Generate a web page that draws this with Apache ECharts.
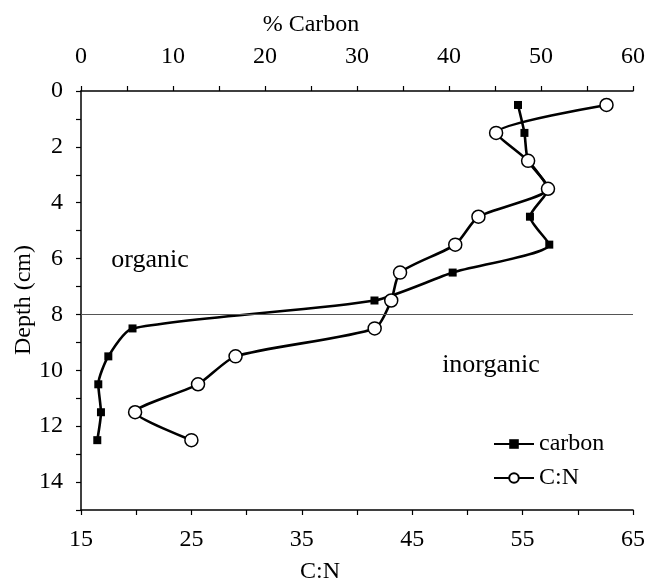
<!DOCTYPE html>
<html>
<head>
<meta charset="utf-8">
<script src="https://cdn.jsdelivr.net/npm/echarts@6/dist/echarts.min.js"></script>
<style>
html,body{margin:0;padding:0;background:#fff;}
#chart{width:651px;height:586px;}
</style>
</head>
<body>
<div id="chart"></div>
<script>
const depth = [0.5, 1.5, 2.5, 3.5, 4.5, 5.5, 6.5, 7.5, 8.5, 9.5, 10.5, 11.5, 12.5];
const carbon = [47.5, 48.2, 48.6, 50.8, 48.8, 50.9, 40.4, 31.9, 5.6, 2.97, 1.88, 2.17, 1.77];
const cn = [62.6, 52.6, 55.5, 57.3, 51.0, 48.9, 43.9, 43.1, 41.6, 29.0, 25.6, 19.9, 25.0];
const boundaryDepth = 8;
const seriesNames = ['carbon', 'C:N'];

const FONT = 'Liberation Serif';
const chart = echarts.init(document.getElementById('chart'));
const axisLineStyle = {color: '#000', width: 1.5};

chart.setOption({
  backgroundColor: '#fff',
  animation: false,
  grid: {left: 81, right: 18, top: 91, bottom: 76},
  xAxis: [
    {
      type: 'value', position: 'top', min: 0, max: 60, interval: 5,
      axisLine: {show: true, lineStyle: axisLineStyle},
      axisTick: {show: true, length: 5, lineStyle: {color: '#000', width: 1.2}},
      axisLabel: {
        margin: 22, fontFamily: FONT, fontSize: 24, color: '#000',
        formatter: v => (v % 10 === 0 ? String(v) : '')
      },
      splitLine: {show: false}
    },
    {
      type: 'value', position: 'bottom', min: 15, max: 65, interval: 5,
      axisLine: {show: true, onZero: false, lineStyle: axisLineStyle},
      axisTick: {show: true, length: 5, lineStyle: {color: '#000', width: 1.2}},
      axisLabel: {
        margin: 18, fontFamily: FONT, fontSize: 24, color: '#000',
        formatter: v => ((v - 15) % 10 === 0 ? String(v) : '')
      },
      splitLine: {show: false}
    }
  ],
  yAxis: {
    type: 'value', inverse: true, min: 0, max: 15, interval: 1,
    axisLine: {show: true, onZero: false, lineStyle: axisLineStyle},
    axisTick: {show: true, length: 5, lineStyle: {color: '#000', width: 1.2}},
    axisLabel: {
      margin: 18, fontFamily: FONT, fontSize: 24, color: '#000',
      formatter: v => (v % 2 === 0 && v < 15 ? String(v) : '')
    },
    splitLine: {show: false}
  },
  legend: {
    data: seriesNames,
    orient: 'vertical',
    left: 488, top: 427,
    itemWidth: 40, itemHeight: 12, itemGap: 10,
    textStyle: {fontFamily: FONT, fontSize: 24, color: '#000'},
    selectedMode: false
  },
  graphic: [
    {type: 'text', x: 311, y: 25, style: {text: '% Carbon', font: '24px "Liberation Serif"', fill: '#000', textAlign: 'center', textVerticalAlign: 'middle'}},
    {type: 'text', x: 320, y: 572, style: {text: 'C:N', font: '24px "Liberation Serif"', fill: '#000', textAlign: 'center', textVerticalAlign: 'middle'}},
    {type: 'text', x: 24, y: 300, rotation: Math.PI / 2, style: {text: 'Depth (cm)', font: '24px "Liberation Serif"', fill: '#000', textAlign: 'center', textVerticalAlign: 'middle'}},
    {type: 'text', x: 150, y: 260, style: {text: 'organic', font: '26px "Liberation Serif"', fill: '#000', textAlign: 'center', textVerticalAlign: 'middle'}},
    {type: 'text', x: 491, y: 365, style: {text: 'inorganic', font: '26px "Liberation Serif"', fill: '#000', textAlign: 'center', textVerticalAlign: 'middle'}}
  ],
  series: [
    {
      name: 'carbon', type: 'line', xAxisIndex: 0,
      data: depth.map((d, i) => [carbon[i], d]),
      smooth: 0.22,
      symbol: 'rect', symbolSize: 8,
      lineStyle: {color: '#000', width: 2.6},
      itemStyle: {color: '#000'},
      markLine: {
        silent: true, symbol: 'none', label: {show: false},
        lineStyle: {color: '#555', width: 1, type: 'solid'},
        data: [{yAxis: boundaryDepth}]
      },
      z: 2
    },
    {
      name: 'C:N', type: 'line', xAxisIndex: 1,
      data: depth.map((d, i) => [cn[i], d]),
      smooth: 0.22,
      symbol: 'circle', symbolSize: 13,
      lineStyle: {color: '#000', width: 2.6},
      itemStyle: {color: '#fff', borderColor: '#000', borderWidth: 1.5},
      z: 3
    }
  ]
});
</script>
</body>
</html>
